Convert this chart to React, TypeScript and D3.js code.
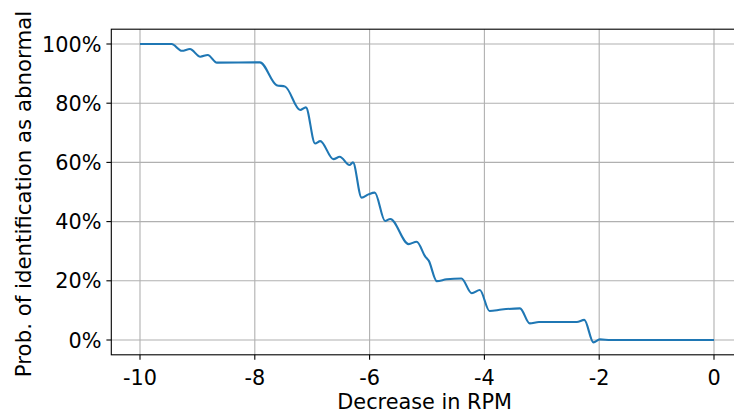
import React from 'react'
import * as d3 from 'd3'

// decrease in RPM (x) and probability of being flagged abnormal (y, %)
const rpmDecrease = [
  -10, -9.45, -9.27, -9.13, -8.95, -8.82, -8.66, -7.91, -7.62, -7.47,
  -7.21, -7.11, -6.95, -6.86, -6.63, -6.52, -6.35, -6.29, -6.14, -6.02,
  -5.91, -5.73, -5.64, -5.32, -5.18, -5.03, -4.97, -4.83, -4.66, -4.4,
  -4.22, -4.08, -3.91, -3.7, -3.38, -3.21, -3.05, -2.39, -2.26, -2.1,
  -1.99, -1.8, 0
]
const probAbnormal = [
  100, 100, 97.7, 98.3, 95.7, 96.3, 93.7, 93.8, 86.1, 85.6,
  77.7, 78.6, 66.4, 67.2, 61.1, 61.9, 59.1, 60.0, 48.1, 49.2,
  49.8, 40.2, 40.9, 32.4, 33.2, 28.2, 26.8, 19.9, 20.5, 20.8,
  15.8, 16.9, 9.8, 10.3, 10.7, 5.6, 6.1, 6.1, 6.8, -0.8,
  0.2, 0, 0
]
const xTicks = [-10, -8, -6, -4, -2, 0]
const yTicks = [0, 20, 40, 60, 80, 100]

export default function App() {
  const width = 734
  const height = 414
  const left = 111.3
  const right = 742.7
  const top = 29.2
  const bottom = 354.8
  const fontSize = 20.8

  const x = d3.scaleLinear().domain([-10.5, 0.5]).range([left, right])
  const y = d3.scaleLinear().domain([-5, 105]).range([bottom, top])

  const points = rpmDecrease.map((v, i) => [v, probAbnormal[i]] as [number, number])
  const line = d3.line<[number, number]>()
    .x(d => x(d[0]))
    .y(d => y(d[1]))
    .curve(d3.curveMonotoneX)

  const font = 'DejaVu Sans, sans-serif'

  return (
    <svg
      width={width}
      height={height}
      viewBox={`0 0 ${width} ${height}`}
      style={{ position: 'absolute', left: 0, top: 0, background: '#fff' }}
    >
      <rect x="0" y="0" width={width} height={height} fill="#fff" />
      {/* grid */}
      {xTicks.map(t => (
        <line key={`gx${t}`} x1={x(t)} x2={x(t)} y1={top} y2={bottom} stroke="#b0b0b0" strokeWidth="1.1" />
      ))}
      {yTicks.map(t => (
        <line key={`gy${t}`} x1={left} x2={right} y1={y(t)} y2={y(t)} stroke="#b0b0b0" strokeWidth="1.1" />
      ))}
      <path d={line(points) || ''} fill="none" stroke="#1f77b4" strokeWidth="2.1" strokeLinejoin="round" />
      {/* spines */}
      <rect x={left} y={top} width={right - left} height={bottom - top} fill="none" stroke="#000" strokeWidth="1.1" />
      {/* x ticks */}
      {xTicks.map(t => (
        <g key={`xt${t}`}>
          <line x1={x(t)} x2={x(t)} y1={bottom} y2={bottom + 4.9} stroke="#000" strokeWidth="1.1" />
          <text x={x(t)} y={bottom + 30} textAnchor="middle" fontFamily={font} fontSize={fontSize} fill="#000">
            {String(t)}
          </text>
        </g>
      ))}
      {/* y ticks */}
      {yTicks.map(t => (
        <g key={`yt${t}`}>
          <line x1={left - 4.9} x2={left} y1={y(t)} y2={y(t)} stroke="#000" strokeWidth="1.1" />
          <text x={left - 9.8} y={y(t) + 7.5} textAnchor="end" fontFamily={font} fontSize={fontSize} fill="#000">
            {`${t}%`}
          </text>
        </g>
      ))}
      <text x={(left + 714) / 2 + 12} y={409} textAnchor="middle" fontFamily={font} fontSize={fontSize} fill="#000">
        Decrease in RPM
      </text>
      <text
        transform={`translate(31,${(top + bottom) / 2 + 2}) rotate(-90)`}
        textAnchor="middle"
        fontFamily={font}
        fontSize={21.3}
        fill="#000"
      >
        Prob. of identification as abnormal
      </text>
    </svg>
  )
}
